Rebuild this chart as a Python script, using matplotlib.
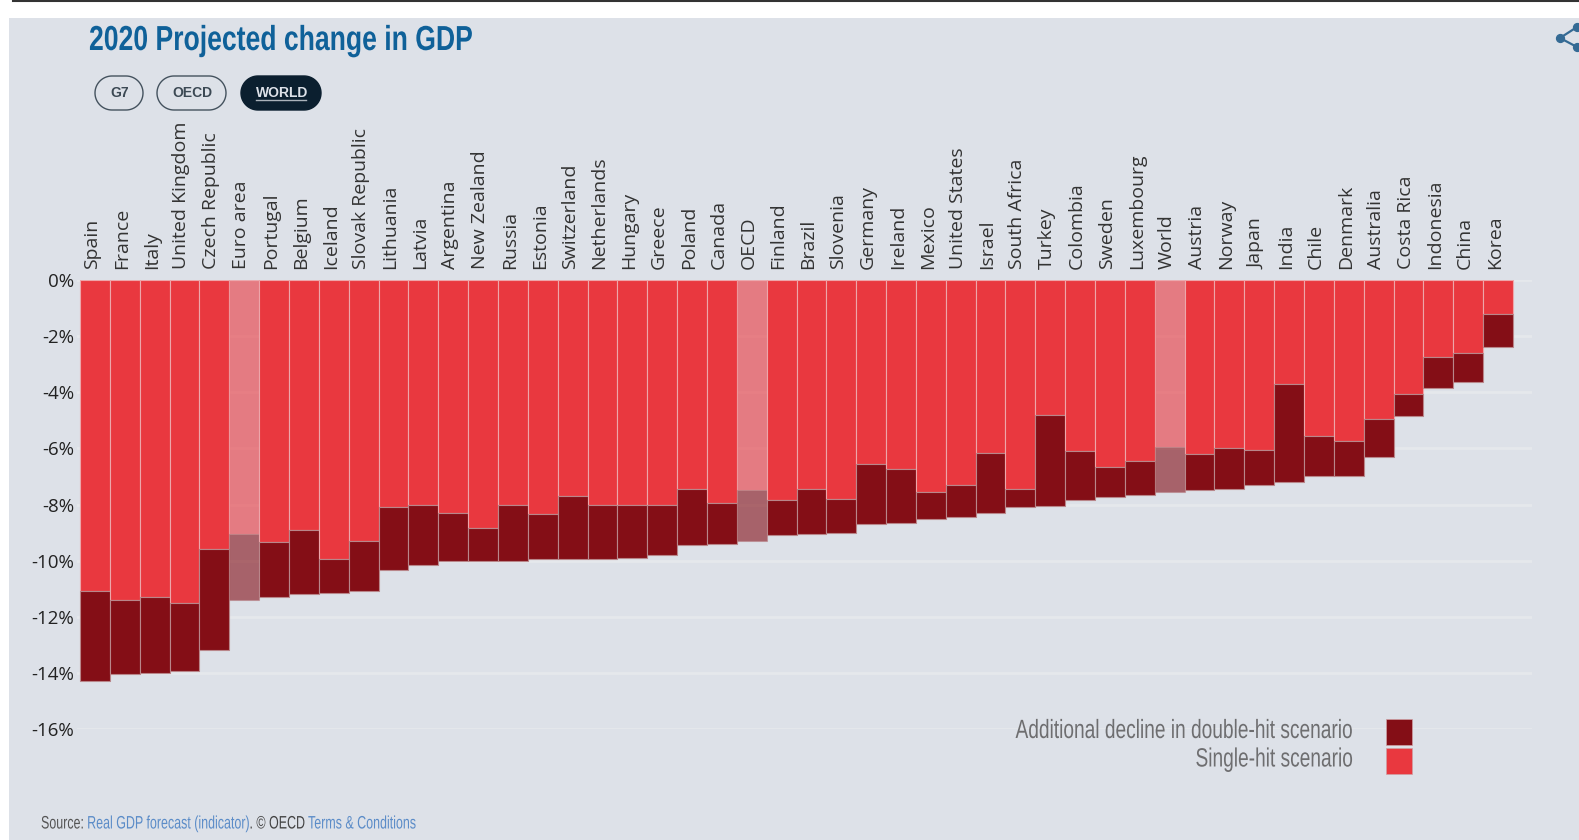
import numpy as np
import matplotlib
matplotlib.use("Agg")
import matplotlib.pyplot as plt
from matplotlib.patches import Polygon, Rectangle
from matplotlib.patheffects import AbstractPathEffect
from matplotlib.transforms import Affine2D, Bbox

W, H = 1579, 840

countries = ["Spain", "France", "Italy", "United Kingdom", "Czech Republic", "Euro area", "Portugal",
             "Belgium", "Iceland", "Slovak Republic", "Lithuania", "Latvia", "Argentina", "New Zealand",
             "Russia", "Estonia", "Switzerland", "Netherlands", "Hungary", "Greece", "Poland", "Canada",
             "OECD", "Finland", "Brazil", "Slovenia", "Germany", "Ireland", "Mexico", "United States",
             "Israel", "South Africa", "Turkey", "Colombia", "Sweden", "Luxembourg", "World", "Austria",
             "Norway", "Japan", "India", "Chile", "Denmark", "Australia", "Costa Rica", "Indonesia",
             "China", "Korea"]
single_hit = [-11.1, -11.4, -11.3, -11.5, -9.6, -9.05, -9.35, -8.9, -9.95, -9.3, -8.1, -8.0,
              -8.3, -8.85, -8.0, -8.35, -7.7, -8.0, -8.0, -8.0, -7.45, -7.95,
              -7.5, -7.85, -7.45, -7.8, -6.55, -6.75, -7.55, -7.3,
              -6.15, -7.45, -4.8, -6.1, -6.65, -6.45, -5.95, -6.2,
              -6.0, -6.05, -3.7, -5.55, -5.75, -4.95, -4.05, -2.75,
              -2.6, -1.2]
double_hit = [-14.3, -14.05, -14.0, -13.95, -13.2, -11.4, -11.3, -11.2, -11.15, -11.1, -10.35, -10.15,
              -10.0, -10.0, -10.0, -9.95, -9.95, -9.95, -9.9, -9.8, -9.45, -9.4,
              -9.3, -9.1, -9.05, -9.0, -8.7, -8.65, -8.5, -8.45,
              -8.3, -8.1, -8.05, -7.85, -7.75, -7.65, -7.55, -7.5,
              -7.45, -7.3, -7.2, -7.0, -7.0, -6.3, -4.85, -3.85,
              -3.65, -2.4]
aggregates = ["Euro area", "OECD", "World"]
y_ticks = [0, -2, -4, -6, -8, -10, -12, -14, -16]
filter_buttons = ["G7", "OECD", "WORLD"]

PANEL = "#dde1e8"
RED = "#e9383f"
DARK = "#840e16"
GRID = "#e5e8ec"


class Squeeze(AbstractPathEffect):
    # no condensed font is installed, so squeeze the glyphs sideways around a pixel x
    def __init__(self, x, sx):
        super().__init__()
        self.x = x
        self.sx = sx

    def draw_path(self, renderer, gc, tpath, affine, rgbFace=None):
        squeeze = Affine2D().translate(-self.x, 0).scale(self.sx, 1).translate(self.x, 0)
        renderer.draw_path(gc, tpath, affine + squeeze, rgbFace)


def squeeze_text(t, x, sx):
    t.set_path_effects([Squeeze(x, sx)])
    full_extent = t.get_window_extent

    # report the box the squeezed glyphs really fill
    def extent(renderer=None, dpi=None):
        b = full_extent(renderer, dpi)
        return Bbox([[x + (b.x0 - x) * sx, b.y0], [x + (b.x1 - x) * sx, b.y1]])

    t.get_window_extent = extent


fig = plt.figure(figsize=(W / 100, H / 100), dpi=100, facecolor="white")

# full figure layer in pixels for the panel, title, buttons and legend
bg = fig.add_axes([0, 0, 1, 1], zorder=0)
bg.set_xlim(0, W)
bg.set_ylim(H, 0)
bg.axis("off")
bg.add_patch(Rectangle((9, 18), W - 9, H - 18, fc=PANEL, ec="none"))
bg.plot([13, W], [1, 1], color="#333333", lw=1.5)

# plot area, top at the 0% line and bottom at the -16% line
left, right, top, bottom = 77, 1532, 280, 729
ax = fig.add_axes([left / W, 1 - bottom / H, (right - left) / W, (bottom - top) / H], zorder=1)
ax.patch.set_visible(False)
unit = (1513 - 80) / len(countries)
ax.set_xlim(-0.5 - (80 - left) / unit, 47.5 + (right - 1513) / unit)
ax.set_ylim(-16, 0)

for i, name in enumerate(countries):
    a = 0.6 if name in aggregates else 1
    ax.bar(i, single_hit[i], width=1, color=RED, alpha=a, edgecolor="#eda6aa", linewidth=0.8, zorder=3)
    ax.bar(i, double_hit[i] - single_hit[i], bottom=single_hit[i], width=1, color=DARK, alpha=a,
           edgecolor="#b9868a", linewidth=0.8, zorder=3)

for s in ax.spines.values():
    s.set_visible(False)
ax.set_yticks(y_ticks)
ax.set_yticklabels([f"{t}%" for t in y_ticks], fontfamily="Open Sans", fontsize=13.5, color="#222222")
ax.set_xticks(range(len(countries)))
ax.set_xticklabels(countries, rotation=90, fontfamily="Open Sans", fontsize=14, color="#333333")
ax.xaxis.tick_top()
ax.tick_params(axis="both", length=0)
ax.tick_params(axis="x", pad=8)
ax.tick_params(axis="y", pad=2)
for label in ax.get_xticklabels():
    label.set_transform(label.get_transform() + Affine2D().translate(-3, 0))
ax.grid(axis="y", color=GRID, lw=2)
ax.set_axisbelow(True)

title = bg.text(89, 50, "2020 Projected change in GDP", family="Liberation Sans", fontweight="bold", fontsize=25,
                color="#0f6199", va="baseline")
squeeze_text(title, 89, 0.765)


def pill(x0, x1, y0, y1, **kw):
    r = (y1 - y0) / 2
    t = np.linspace(-np.pi / 2, np.pi / 2, 40)
    right_end = np.c_[x1 - r + r * np.cos(t), y0 + r + r * np.sin(t)]
    left_end = np.c_[x0 + r - r * np.cos(t), y1 - r - r * np.sin(t)]
    bg.add_patch(Polygon(np.r_[right_end, left_end], closed=True, **kw))


# filter buttons
button_x = [(95, 143), (157, 226), (241, 321)]
for label, (x0, x1) in zip(filter_buttons, button_x):
    active = label == "WORLD"
    pill(x0, x1, 76, 110, fc="#0b1f2f" if active else "none", ec="#0b1f2f" if active else "#44525e", lw=1)
    bg.text((x0 + x1) / 2 + 1, 93, label, family="Liberation Sans", fontweight="bold", fontsize=10,
            color="#dde1e8" if active else "#3c4954", ha="center", va="center")
bg.plot([256, 306], [99.5, 99.5], color="#aab2ba", lw=1)

# share icon, cut off by the right edge
bg.plot([1577, 1560, 1577], [27, 38, 47], color="#346a94", lw=1.6)
bg.scatter([1577, 1560, 1577], [27, 38, 47], s=32, color="#346a94", zorder=3)

# legend goes on the plot axes so it sits over the -16% gridline
legend_items = ["Additional decline in double-hit scenario", "Single-hit scenario"]
for label, color, y in zip(legend_items, [DARK, RED], [719, 747.5]):
    ax.add_patch(Rectangle((1386, y), 26, 26, fc=color, ec="#cfa0a4", lw=0.5, zorder=4,
                           transform=bg.transData, clip_on=False))
    t = ax.text(1353, y + 12, label, family="Liberation Sans", fontsize=19, color="#6e6e70", ha="right", va="center",
                zorder=4, transform=bg.transData, clip_on=False)
    squeeze_text(t, 1353, 0.725)

# source line, pieces have different colours so place them one after another
source_parts = [("Source: ", "#555555"), ("Real GDP forecast (indicator)", "#5b8cc8"), (". © OECD ", "#444444"),
                ("Terms & Conditions", "#5b8cc8")]
renderer = fig.canvas.get_renderer()
x = 41
for part, color in source_parts:
    t = bg.text(x, 824, part, family="Liberation Sans", fontsize=13, color=color, va="center")
    squeeze_text(t, x, 0.69)
    x = t.get_window_extent(renderer).x1

fig.savefig("out.png", dpi=100, facecolor="white")
